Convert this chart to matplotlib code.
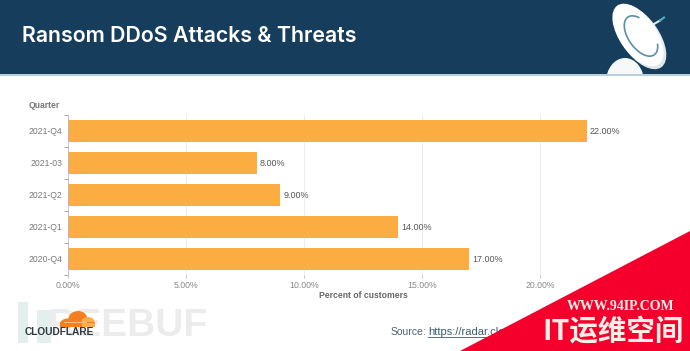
import matplotlib
matplotlib.use('Agg')
import matplotlib.pyplot as plt
from matplotlib.patches import Rectangle, Ellipse, Polygon, Arc

W, H = 690, 351

quarters = ['2020-Q4', '2021-Q1', '2021-Q2', '2021-03', '2021-Q4']
percent = [17, 14, 9, 8, 22]
xticks = [0, 5, 10, 15, 20, 25]

plt.rcParams['font.family'] = ['Liberation Sans', 'DejaVu Sans']

fig = plt.figure(figsize=(W / 100, H / 100), dpi=100, facecolor='white')

# overlay in pixel coords for the banner, logos and corner
bg = fig.add_axes([0, 0, 1, 1], zorder=0)
bg.set_xlim(0, W)
bg.set_ylim(H, 0)
bg.axis('off')

banner = Rectangle((0, 0), W, 74, color='#163d5b', lw=0)
bg.add_patch(banner)
bg.add_patch(Rectangle((0, 74), W, 1.5, color='#b9cfdc', lw=0))
bg.text(22, 36, 'Ransom DDoS Attacks & Threats', color='white', fontsize=15.35,
        fontweight='semibold', va='center', ha='left', family=['Inter', 'DejaVu Sans'])

# dish
base = Ellipse((625, 82), 38, 48, color='#f6f8fa', lw=0)
bg.add_patch(base)
base.set_clip_path(banner)
bg.add_patch(Ellipse((640, 37), 38, 74, angle=-35, color='#dfe8ec', lw=0))
bg.add_patch(Ellipse((638, 35), 37, 72, angle=-35, color='white', lw=0))
bg.add_patch(Arc((641, 36), 25, 46, angle=-35, theta1=60, theta2=300,
                 color='#5b8fa5', lw=1.2))
bg.plot([654, 660], [24, 20.5], color='#e6edf0', lw=1.5)
bg.plot([660, 664], [20.5, 17.5], color='#4fb3c8', lw=1.5)

# freebuf watermark, under the logo
bg.add_patch(Rectangle((18, 302), 10, 41, color='#e3efec', lw=0, zorder=1))
bg.add_patch(Rectangle((37, 310), 14, 33, color='#e3efec', lw=0, zorder=1))
bg.text(208, 326, 'REEBUF', color='#ececec', fontsize=28, fontweight='bold',
        va='center', ha='right', zorder=1,
        family=['Liberation Sans Narrow', 'Liberation Sans'])

# cloudflare logo
bg.add_patch(Ellipse((78, 319), 19, 16, color='#f38020', lw=0, zorder=4))
bg.add_patch(Ellipse((68, 323), 15, 9, color='#f38020', lw=0, zorder=4))
bg.add_patch(Ellipse((88, 322), 13, 10, color='#f9ad4d', lw=0, zorder=4))
bg.add_patch(Rectangle((60, 322), 35, 5, color='#f38020', lw=0, zorder=4))
bg.add_patch(Rectangle((82, 323), 13, 4, color='#f9ad4d', lw=0, zorder=4))
bg.plot([64, 86], [322, 322], color='#fbd7ad', lw=0.5, zorder=5)
bg.text(59, 332, 'CLOUDFLARE', color='#2f3a40', fontsize=7.3, fontweight='bold',
        va='center', ha='center', zorder=5)

bg.text(391, 332, 'Source:', color='#4d6472', fontsize=7.5, va='center', ha='left')
bg.text(428, 332, 'https://radar.clo', color='#3c5a6e', fontsize=8, va='center', ha='left')
bg.plot([428, 497], [337, 337], color='#3c5a6e', lw=0.6)

# chart
x0, x1 = 68, 658
y0, y1 = 115, 275
ax = fig.add_axes([x0 / W, 1 - y1 / H, (x1 - x0) / W, (y1 - y0) / H], zorder=1)
ax.patch.set_alpha(0)
ax.barh(quarters, percent, height=0.69, color='#fbad41', zorder=2)
ax.set_xlim(0, 25)
ax.set_ylim(-0.5, 4.5)
ax.set_xticks(xticks)
ax.set_xticklabels([f'{v:.2f}%' for v in xticks])
ax.grid(axis='x', color='#ececec', lw=0.7, zorder=0)
ax.tick_params(axis='x', length=2, width=0.6, color='#bbbbbb', labelsize=6.3,
               labelcolor='#888888', pad=2)
ax.set_yticks([i - 0.5 for i in range(6)], minor=True)
ax.tick_params(axis='y', which='minor', length=3, width=0.6, color='#999999')
ax.tick_params(axis='y', which='major', length=0, pad=4, labelsize=6.2, labelcolor='#777777')
for s in ['top', 'right', 'bottom']:
    ax.spines[s].set_visible(False)
ax.spines['left'].set_color('#bbbbbb')
ax.spines['left'].set_linewidth(0.6)
for i, v in enumerate(percent):
    ax.text(v + 0.12, i, f'{v:.2f}%', va='center', ha='left', fontsize=6.5, color='#555555')
ax.set_xlabel('Percent of customers', fontsize=6.2, fontweight='bold', color='#666666', labelpad=1)
bg.text(29, 106, 'Quarter', fontsize=6.2, fontweight='bold', color='#777777', va='center', ha='left')

# red corner on top of everything
top = fig.add_axes([0, 0, 1, 1], zorder=2)
top.set_xlim(0, W)
top.set_ylim(H, 0)
top.axis('off')
top.add_patch(Polygon([[690, 231], [690, 351], [460, 351]], closed=True, color='#f5002d', lw=0))
top.text(621, 307, 'WWW.94IP.COM', color='#fdeee6', fontsize=10, fontweight='bold',
         va='center', ha='center', family=['Liberation Serif', 'DejaVu Serif'])
top.text(613, 332, 'IT运维空间', color='#fdeee6', fontsize=20.5, fontweight='bold',
         va='center', ha='center', family=['Noto Sans CJK SC', 'DejaVu Sans'])

fig.savefig('out.png', dpi=100)
